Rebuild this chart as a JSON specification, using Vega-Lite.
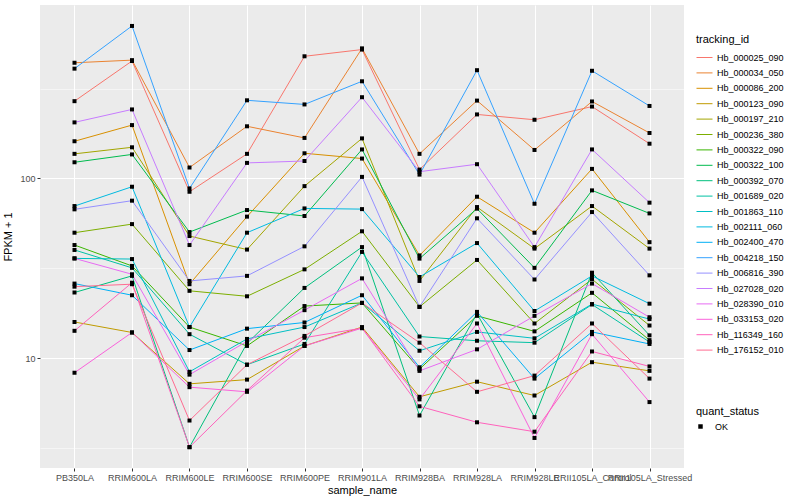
{
"$schema": "https://vega.github.io/schema/vega-lite/v6.json",
"width": 644, "height": 463,
"autosize": {"type": "none"},
"padding": {"left": 40, "top": 5, "right": 116, "bottom": 32},
"background": "white",
"config": {
  "font": "Liberation Sans",
  "view": {"fill": "#EBEBEB", "stroke": null},
  "axis": {"gridColor": "#FFFFFF", "domain": false, "tickColor": "#333333", "tickSize": 3, "labelColor": "#4D4D4D", "labelFontSize": 9, "labelPadding": 2, "titleFontSize": 11, "titleFontWeight": "normal", "titleColor": "#000000"},
  "legend": {"labelFontSize": 9, "labelColor": "#000000", "titleFontSize": 11, "titleFontWeight": "normal", "titleColor": "#000000"}
},
"datasets": {"d": [
{"tracking_id":"Hb_000025_090","sample_name":"PB350LA","value":269},
{"tracking_id":"Hb_000025_090","sample_name":"RRIM600LA","value":450},
{"tracking_id":"Hb_000025_090","sample_name":"RRIM600LE","value":84.3},
{"tracking_id":"Hb_000025_090","sample_name":"RRIM600SE","value":137},
{"tracking_id":"Hb_000025_090","sample_name":"RRIM600PE","value":478},
{"tracking_id":"Hb_000025_090","sample_name":"RRIM901LA","value":521},
{"tracking_id":"Hb_000025_090","sample_name":"RRIM928BA","value":112},
{"tracking_id":"Hb_000025_090","sample_name":"RRIM928LA","value":227},
{"tracking_id":"Hb_000025_090","sample_name":"RRIM928LE","value":212},
{"tracking_id":"Hb_000025_090","sample_name":"RRII105LA_Control","value":251},
{"tracking_id":"Hb_000025_090","sample_name":"RRII105LA_Stressed","value":156},
{"tracking_id":"Hb_000034_050","sample_name":"PB350LA","value":440},
{"tracking_id":"Hb_000034_050","sample_name":"RRIM600LA","value":455},
{"tracking_id":"Hb_000034_050","sample_name":"RRIM600LE","value":115},
{"tracking_id":"Hb_000034_050","sample_name":"RRIM600SE","value":195},
{"tracking_id":"Hb_000034_050","sample_name":"RRIM600PE","value":168},
{"tracking_id":"Hb_000034_050","sample_name":"RRIM901LA","value":529},
{"tracking_id":"Hb_000034_050","sample_name":"RRIM928BA","value":137},
{"tracking_id":"Hb_000034_050","sample_name":"RRIM928LA","value":271},
{"tracking_id":"Hb_000034_050","sample_name":"RRIM928LE","value":144},
{"tracking_id":"Hb_000034_050","sample_name":"RRII105LA_Control","value":268},
{"tracking_id":"Hb_000034_050","sample_name":"RRII105LA_Stressed","value":179},
{"tracking_id":"Hb_000086_200","sample_name":"PB350LA","value":161},
{"tracking_id":"Hb_000086_200","sample_name":"RRIM600LA","value":198},
{"tracking_id":"Hb_000086_200","sample_name":"RRIM600LE","value":25.8},
{"tracking_id":"Hb_000086_200","sample_name":"RRIM600SE","value":61.3},
{"tracking_id":"Hb_000086_200","sample_name":"RRIM600PE","value":138},
{"tracking_id":"Hb_000086_200","sample_name":"RRIM901LA","value":129},
{"tracking_id":"Hb_000086_200","sample_name":"RRIM928BA","value":37.3},
{"tracking_id":"Hb_000086_200","sample_name":"RRIM928LA","value":79.1},
{"tracking_id":"Hb_000086_200","sample_name":"RRIM928LE","value":49.9},
{"tracking_id":"Hb_000086_200","sample_name":"RRII105LA_Control","value":113},
{"tracking_id":"Hb_000086_200","sample_name":"RRII105LA_Stressed","value":44.2},
{"tracking_id":"Hb_000123_090","sample_name":"PB350LA","value":15.9},
{"tracking_id":"Hb_000123_090","sample_name":"RRIM600LA","value":13.9},
{"tracking_id":"Hb_000123_090","sample_name":"RRIM600LE","value":7.2},
{"tracking_id":"Hb_000123_090","sample_name":"RRIM600SE","value":7.6},
{"tracking_id":"Hb_000123_090","sample_name":"RRIM600PE","value":11.7},
{"tracking_id":"Hb_000123_090","sample_name":"RRIM901LA","value":14.9},
{"tracking_id":"Hb_000123_090","sample_name":"RRIM928BA","value":6.1},
{"tracking_id":"Hb_000123_090","sample_name":"RRIM928LA","value":7.4},
{"tracking_id":"Hb_000123_090","sample_name":"RRIM928LE","value":6.2},
{"tracking_id":"Hb_000123_090","sample_name":"RRII105LA_Control","value":9.5},
{"tracking_id":"Hb_000123_090","sample_name":"RRII105LA_Stressed","value":8.5},
{"tracking_id":"Hb_000197_210","sample_name":"PB350LA","value":137},
{"tracking_id":"Hb_000197_210","sample_name":"RRIM600LA","value":149},
{"tracking_id":"Hb_000197_210","sample_name":"RRIM600LE","value":47.8},
{"tracking_id":"Hb_000197_210","sample_name":"RRIM600SE","value":40.2},
{"tracking_id":"Hb_000197_210","sample_name":"RRIM600PE","value":90.6},
{"tracking_id":"Hb_000197_210","sample_name":"RRIM901LA","value":167},
{"tracking_id":"Hb_000197_210","sample_name":"RRIM928BA","value":26.9},
{"tracking_id":"Hb_000197_210","sample_name":"RRIM928LA","value":69.3},
{"tracking_id":"Hb_000197_210","sample_name":"RRIM928LE","value":40.7},
{"tracking_id":"Hb_000197_210","sample_name":"RRII105LA_Control","value":70.2},
{"tracking_id":"Hb_000197_210","sample_name":"RRII105LA_Stressed","value":40.7},
{"tracking_id":"Hb_000236_380","sample_name":"PB350LA","value":49.9},
{"tracking_id":"Hb_000236_380","sample_name":"RRIM600LA","value":55.7},
{"tracking_id":"Hb_000236_380","sample_name":"RRIM600LE","value":23.7},
{"tracking_id":"Hb_000236_380","sample_name":"RRIM600SE","value":22.1},
{"tracking_id":"Hb_000236_380","sample_name":"RRIM600PE","value":31.2},
{"tracking_id":"Hb_000236_380","sample_name":"RRIM901LA","value":50.8},
{"tracking_id":"Hb_000236_380","sample_name":"RRIM928BA","value":19.3},
{"tracking_id":"Hb_000236_380","sample_name":"RRIM928LA","value":35.2},
{"tracking_id":"Hb_000236_380","sample_name":"RRIM928LE","value":15.6},
{"tracking_id":"Hb_000236_380","sample_name":"RRII105LA_Control","value":27.5},
{"tracking_id":"Hb_000236_380","sample_name":"RRII105LA_Stressed","value":15.2},
{"tracking_id":"Hb_000322_090","sample_name":"PB350LA","value":42.6},
{"tracking_id":"Hb_000322_090","sample_name":"RRIM600LA","value":32.6},
{"tracking_id":"Hb_000322_090","sample_name":"RRIM600LE","value":14.9},
{"tracking_id":"Hb_000322_090","sample_name":"RRIM600SE","value":11.7},
{"tracking_id":"Hb_000322_090","sample_name":"RRIM600PE","value":19.5},
{"tracking_id":"Hb_000322_090","sample_name":"RRIM901LA","value":20.3},
{"tracking_id":"Hb_000322_090","sample_name":"RRIM928BA","value":8.7},
{"tracking_id":"Hb_000322_090","sample_name":"RRIM928LA","value":17.2},
{"tracking_id":"Hb_000322_090","sample_name":"RRIM928LE","value":14.1},
{"tracking_id":"Hb_000322_090","sample_name":"RRII105LA_Control","value":23.1},
{"tracking_id":"Hb_000322_090","sample_name":"RRII105LA_Stressed","value":12.6},
{"tracking_id":"Hb_000322_100","sample_name":"PB350LA","value":123},
{"tracking_id":"Hb_000322_100","sample_name":"RRIM600LA","value":136},
{"tracking_id":"Hb_000322_100","sample_name":"RRIM600LE","value":50.3},
{"tracking_id":"Hb_000322_100","sample_name":"RRIM600SE","value":66.7},
{"tracking_id":"Hb_000322_100","sample_name":"RRIM600PE","value":61.8},
{"tracking_id":"Hb_000322_100","sample_name":"RRIM901LA","value":145},
{"tracking_id":"Hb_000322_100","sample_name":"RRIM928BA","value":35.8},
{"tracking_id":"Hb_000322_100","sample_name":"RRIM928LA","value":67.9},
{"tracking_id":"Hb_000322_100","sample_name":"RRIM928LE","value":31.8},
{"tracking_id":"Hb_000322_100","sample_name":"RRII105LA_Control","value":85.8},
{"tracking_id":"Hb_000322_100","sample_name":"RRII105LA_Stressed","value":63.9},
{"tracking_id":"Hb_000392_070","sample_name":"PB350LA","value":23.2},
{"tracking_id":"Hb_000392_070","sample_name":"RRIM600LA","value":28.7},
{"tracking_id":"Hb_000392_070","sample_name":"RRIM600LE","value":3.2},
{"tracking_id":"Hb_000392_070","sample_name":"RRIM600SE","value":12.1},
{"tracking_id":"Hb_000392_070","sample_name":"RRIM600PE","value":24.6},
{"tracking_id":"Hb_000392_070","sample_name":"RRIM901LA","value":41.5},
{"tracking_id":"Hb_000392_070","sample_name":"RRIM928BA","value":4.8},
{"tracking_id":"Hb_000392_070","sample_name":"RRIM928LA","value":17.7},
{"tracking_id":"Hb_000392_070","sample_name":"RRIM928LE","value":4.7},
{"tracking_id":"Hb_000392_070","sample_name":"RRII105LA_Control","value":29.9},
{"tracking_id":"Hb_000392_070","sample_name":"RRII105LA_Stressed","value":13.4},
{"tracking_id":"Hb_001689_020","sample_name":"PB350LA","value":40},
{"tracking_id":"Hb_001689_020","sample_name":"RRIM600LA","value":31.8},
{"tracking_id":"Hb_001689_020","sample_name":"RRIM600LE","value":13.6},
{"tracking_id":"Hb_001689_020","sample_name":"RRIM600SE","value":9.2},
{"tracking_id":"Hb_001689_020","sample_name":"RRIM600PE","value":12},
{"tracking_id":"Hb_001689_020","sample_name":"RRIM901LA","value":39},
{"tracking_id":"Hb_001689_020","sample_name":"RRIM928BA","value":13.2},
{"tracking_id":"Hb_001689_020","sample_name":"RRIM928LA","value":12.5},
{"tracking_id":"Hb_001689_020","sample_name":"RRIM928LE","value":12.2},
{"tracking_id":"Hb_001689_020","sample_name":"RRII105LA_Control","value":19.9},
{"tracking_id":"Hb_001689_020","sample_name":"RRII105LA_Stressed","value":12.3},
{"tracking_id":"Hb_001863_110","sample_name":"PB350LA","value":35.9},
{"tracking_id":"Hb_001863_110","sample_name":"RRIM600LA","value":35.6},
{"tracking_id":"Hb_001863_110","sample_name":"RRIM600LE","value":8.4},
{"tracking_id":"Hb_001863_110","sample_name":"RRIM600SE","value":12.8},
{"tracking_id":"Hb_001863_110","sample_name":"RRIM600PE","value":14.9},
{"tracking_id":"Hb_001863_110","sample_name":"RRIM901LA","value":20.3},
{"tracking_id":"Hb_001863_110","sample_name":"RRIM928BA","value":11},
{"tracking_id":"Hb_001863_110","sample_name":"RRIM928LA","value":14},
{"tracking_id":"Hb_001863_110","sample_name":"RRIM928LE","value":12.9},
{"tracking_id":"Hb_001863_110","sample_name":"RRII105LA_Control","value":20},
{"tracking_id":"Hb_001863_110","sample_name":"RRII105LA_Stressed","value":16.5},
{"tracking_id":"Hb_002111_060","sample_name":"PB350LA","value":70.2},
{"tracking_id":"Hb_002111_060","sample_name":"RRIM600LA","value":89.9},
{"tracking_id":"Hb_002111_060","sample_name":"RRIM600LE","value":14.9},
{"tracking_id":"Hb_002111_060","sample_name":"RRIM600SE","value":49.9},
{"tracking_id":"Hb_002111_060","sample_name":"RRIM600PE","value":68.1},
{"tracking_id":"Hb_002111_060","sample_name":"RRIM901LA","value":67.5},
{"tracking_id":"Hb_002111_060","sample_name":"RRIM928BA","value":28.3},
{"tracking_id":"Hb_002111_060","sample_name":"RRIM928LA","value":43.7},
{"tracking_id":"Hb_002111_060","sample_name":"RRIM928LE","value":18.3},
{"tracking_id":"Hb_002111_060","sample_name":"RRII105LA_Control","value":28.7},
{"tracking_id":"Hb_002111_060","sample_name":"RRII105LA_Stressed","value":20.1},
{"tracking_id":"Hb_002400_470","sample_name":"PB350LA","value":26},
{"tracking_id":"Hb_002400_470","sample_name":"RRIM600LA","value":22.4},
{"tracking_id":"Hb_002400_470","sample_name":"RRIM600LE","value":11.1},
{"tracking_id":"Hb_002400_470","sample_name":"RRIM600SE","value":14.6},
{"tracking_id":"Hb_002400_470","sample_name":"RRIM600PE","value":15.8},
{"tracking_id":"Hb_002400_470","sample_name":"RRIM901LA","value":22.4},
{"tracking_id":"Hb_002400_470","sample_name":"RRIM928BA","value":8.9},
{"tracking_id":"Hb_002400_470","sample_name":"RRIM928LA","value":18.1},
{"tracking_id":"Hb_002400_470","sample_name":"RRIM928LE","value":7.7},
{"tracking_id":"Hb_002400_470","sample_name":"RRII105LA_Control","value":14},
{"tracking_id":"Hb_002400_470","sample_name":"RRII105LA_Stressed","value":12},
{"tracking_id":"Hb_004218_150","sample_name":"PB350LA","value":408},
{"tracking_id":"Hb_004218_150","sample_name":"RRIM600LA","value":705},
{"tracking_id":"Hb_004218_150","sample_name":"RRIM600LE","value":88},
{"tracking_id":"Hb_004218_150","sample_name":"RRIM600SE","value":272},
{"tracking_id":"Hb_004218_150","sample_name":"RRIM600PE","value":258},
{"tracking_id":"Hb_004218_150","sample_name":"RRIM901LA","value":347},
{"tracking_id":"Hb_004218_150","sample_name":"RRIM928BA","value":105},
{"tracking_id":"Hb_004218_150","sample_name":"RRIM928LA","value":400},
{"tracking_id":"Hb_004218_150","sample_name":"RRIM928LE","value":72.3},
{"tracking_id":"Hb_004218_150","sample_name":"RRII105LA_Control","value":397},
{"tracking_id":"Hb_004218_150","sample_name":"RRII105LA_Stressed","value":253},
{"tracking_id":"Hb_006816_390","sample_name":"PB350LA","value":67.3},
{"tracking_id":"Hb_006816_390","sample_name":"RRIM600LA","value":75.2},
{"tracking_id":"Hb_006816_390","sample_name":"RRIM600LE","value":26.9},
{"tracking_id":"Hb_006816_390","sample_name":"RRIM600SE","value":28.7},
{"tracking_id":"Hb_006816_390","sample_name":"RRIM600PE","value":41.9},
{"tracking_id":"Hb_006816_390","sample_name":"RRIM901LA","value":102},
{"tracking_id":"Hb_006816_390","sample_name":"RRIM928BA","value":19.3},
{"tracking_id":"Hb_006816_390","sample_name":"RRIM928LA","value":60},
{"tracking_id":"Hb_006816_390","sample_name":"RRIM928LE","value":27.4},
{"tracking_id":"Hb_006816_390","sample_name":"RRII105LA_Control","value":65},
{"tracking_id":"Hb_006816_390","sample_name":"RRII105LA_Stressed","value":28.9},
{"tracking_id":"Hb_027028_020","sample_name":"PB350LA","value":205},
{"tracking_id":"Hb_027028_020","sample_name":"RRIM600LA","value":242},
{"tracking_id":"Hb_027028_020","sample_name":"RRIM600LE","value":42.6},
{"tracking_id":"Hb_027028_020","sample_name":"RRIM600SE","value":122},
{"tracking_id":"Hb_027028_020","sample_name":"RRIM600PE","value":125},
{"tracking_id":"Hb_027028_020","sample_name":"RRIM901LA","value":283},
{"tracking_id":"Hb_027028_020","sample_name":"RRIM928BA","value":109},
{"tracking_id":"Hb_027028_020","sample_name":"RRIM928LA","value":120},
{"tracking_id":"Hb_027028_020","sample_name":"RRIM928LE","value":41.5},
{"tracking_id":"Hb_027028_020","sample_name":"RRII105LA_Control","value":145},
{"tracking_id":"Hb_027028_020","sample_name":"RRII105LA_Stressed","value":73.3},
{"tracking_id":"Hb_028390_010","sample_name":"PB350LA","value":35.9},
{"tracking_id":"Hb_028390_010","sample_name":"RRIM600LA","value":29.3},
{"tracking_id":"Hb_028390_010","sample_name":"RRIM600LE","value":8.1},
{"tracking_id":"Hb_028390_010","sample_name":"RRIM600SE","value":12.4},
{"tracking_id":"Hb_028390_010","sample_name":"RRIM600PE","value":18.5},
{"tracking_id":"Hb_028390_010","sample_name":"RRIM901LA","value":27.8},
{"tracking_id":"Hb_028390_010","sample_name":"RRIM928BA","value":8.5},
{"tracking_id":"Hb_028390_010","sample_name":"RRIM928LA","value":11.2},
{"tracking_id":"Hb_028390_010","sample_name":"RRIM928LE","value":17.2},
{"tracking_id":"Hb_028390_010","sample_name":"RRII105LA_Control","value":26},
{"tracking_id":"Hb_028390_010","sample_name":"RRII105LA_Stressed","value":16.9},
{"tracking_id":"Hb_033153_020","sample_name":"PB350LA","value":8.3},
{"tracking_id":"Hb_033153_020","sample_name":"RRIM600LA","value":13.9},
{"tracking_id":"Hb_033153_020","sample_name":"RRIM600LE","value":6.9},
{"tracking_id":"Hb_033153_020","sample_name":"RRIM600SE","value":6.5},
{"tracking_id":"Hb_033153_020","sample_name":"RRIM600PE","value":11.7},
{"tracking_id":"Hb_033153_020","sample_name":"RRIM901LA","value":14.7},
{"tracking_id":"Hb_033153_020","sample_name":"RRIM928BA","value":5.9},
{"tracking_id":"Hb_033153_020","sample_name":"RRIM928LA","value":15.6},
{"tracking_id":"Hb_033153_020","sample_name":"RRIM928LE","value":3.6},
{"tracking_id":"Hb_033153_020","sample_name":"RRII105LA_Control","value":13.6},
{"tracking_id":"Hb_033153_020","sample_name":"RRII105LA_Stressed","value":5.7},
{"tracking_id":"Hb_116349_160","sample_name":"PB350LA","value":14.2},
{"tracking_id":"Hb_116349_160","sample_name":"RRIM600LA","value":26.3},
{"tracking_id":"Hb_116349_160","sample_name":"RRIM600LE","value":3.2},
{"tracking_id":"Hb_116349_160","sample_name":"RRIM600SE","value":6.6},
{"tracking_id":"Hb_116349_160","sample_name":"RRIM600PE","value":13},
{"tracking_id":"Hb_116349_160","sample_name":"RRIM901LA","value":14.7},
{"tracking_id":"Hb_116349_160","sample_name":"RRIM928BA","value":5.4},
{"tracking_id":"Hb_116349_160","sample_name":"RRIM928LA","value":4.4},
{"tracking_id":"Hb_116349_160","sample_name":"RRIM928LE","value":3.9},
{"tracking_id":"Hb_116349_160","sample_name":"RRII105LA_Control","value":10.9},
{"tracking_id":"Hb_116349_160","sample_name":"RRII105LA_Stressed","value":9},
{"tracking_id":"Hb_176152_010","sample_name":"PB350LA","value":25},
{"tracking_id":"Hb_176152_010","sample_name":"RRIM600LA","value":25.8},
{"tracking_id":"Hb_176152_010","sample_name":"RRIM600LE","value":4.5},
{"tracking_id":"Hb_176152_010","sample_name":"RRIM600SE","value":9.2},
{"tracking_id":"Hb_176152_010","sample_name":"RRIM600PE","value":13.3},
{"tracking_id":"Hb_176152_010","sample_name":"RRIM901LA","value":20.3},
{"tracking_id":"Hb_176152_010","sample_name":"RRIM928BA","value":12.2},
{"tracking_id":"Hb_176152_010","sample_name":"RRIM928LA","value":6.5},
{"tracking_id":"Hb_176152_010","sample_name":"RRIM928LE","value":8},
{"tracking_id":"Hb_176152_010","sample_name":"RRII105LA_Control","value":15.6},
{"tracking_id":"Hb_176152_010","sample_name":"RRII105LA_Stressed","value":7.7}
]},
"data": {"name": "d"},
"layer": [
  {
    "mark": {"type": "line", "strokeWidth": 1},
    "encoding": {
      "x": {"field": "sample_name", "type": "nominal",
            "sort": ["PB350LA","RRIM600LA","RRIM600LE","RRIM600SE","RRIM600PE","RRIM901LA","RRIM928BA","RRIM928LA","RRIM928LE","RRII105LA_Control","RRII105LA_Stressed"],
            "scale": {"type": "point", "padding": 0.6},
            "axis": {"title": "sample_name", "labelAngle": 0, "labelOverlap": false, "grid": true, "gridWidth": 1, "titlePadding": 2}},
      "y": {"field": "value", "type": "quantitative",
            "scale": {"type": "log", "domain": [2.45, 922], "nice": false},
            "axis": {"title": "FPKM + 1", "values": [10, 100], "format": "d", "grid": true, "gridWidth": 1, "titlePadding": 6}},
      "color": {"field": "tracking_id", "type": "nominal",
            "scale": {"domain": ["Hb_000025_090","Hb_000034_050","Hb_000086_200","Hb_000123_090","Hb_000197_210","Hb_000236_380","Hb_000322_090","Hb_000322_100","Hb_000392_070","Hb_001689_020","Hb_001863_110","Hb_002111_060","Hb_002400_470","Hb_004218_150","Hb_006816_390","Hb_027028_020","Hb_028390_010","Hb_033153_020","Hb_116349_160","Hb_176152_010"],
                      "range": ["#F8766D","#EA8331","#D89000","#C09B00","#A3A500","#7CAE00","#39B600","#00BB4E","#00BF7D","#00C1A3","#00BFC4","#00BAE0","#00B0F6","#35A2FF","#9590FF","#C77CFF","#E76BF3","#FA62DB","#FF62BC","#FF6C91"]},
            "legend": {"title": "tracking_id", "orient": "none", "legendX": 656, "legendY": 29, "symbolType": "stroke", "symbolSize": 256, "symbolStrokeWidth": 1, "rowPadding": 1.4, "titlePadding": 4, "labelOffset": 4}}
    }
  },
  {
    "mark": {"type": "point", "filled": true, "color": "#000000", "opacity": 1, "size": 16},
    "encoding": {
      "x": {"field": "sample_name", "type": "nominal",
            "sort": ["PB350LA","RRIM600LA","RRIM600LE","RRIM600SE","RRIM600PE","RRIM901LA","RRIM928BA","RRIM928LA","RRIM928LE","RRII105LA_Control","RRII105LA_Stressed"]},
      "y": {"field": "value", "type": "quantitative",
            "axis": {"orient": "left", "values": [3.1623, 31.623, 316.23], "labels": false, "ticks": false, "title": null, "grid": true, "gridWidth": 0.5}},
      "shape": {"datum": "OK", "scale": {"range": ["square"]},
            "legend": {"title": "quant_status", "orient": "none", "legendX": 656, "legendY": 401, "symbolSize": 20, "symbolFillColor": "#000000", "symbolStrokeColor": "#000000", "titlePadding": 5, "labelOffset": 10}}
    }
  }
],
"resolve": {"axis": {"y": "independent"}}
}
